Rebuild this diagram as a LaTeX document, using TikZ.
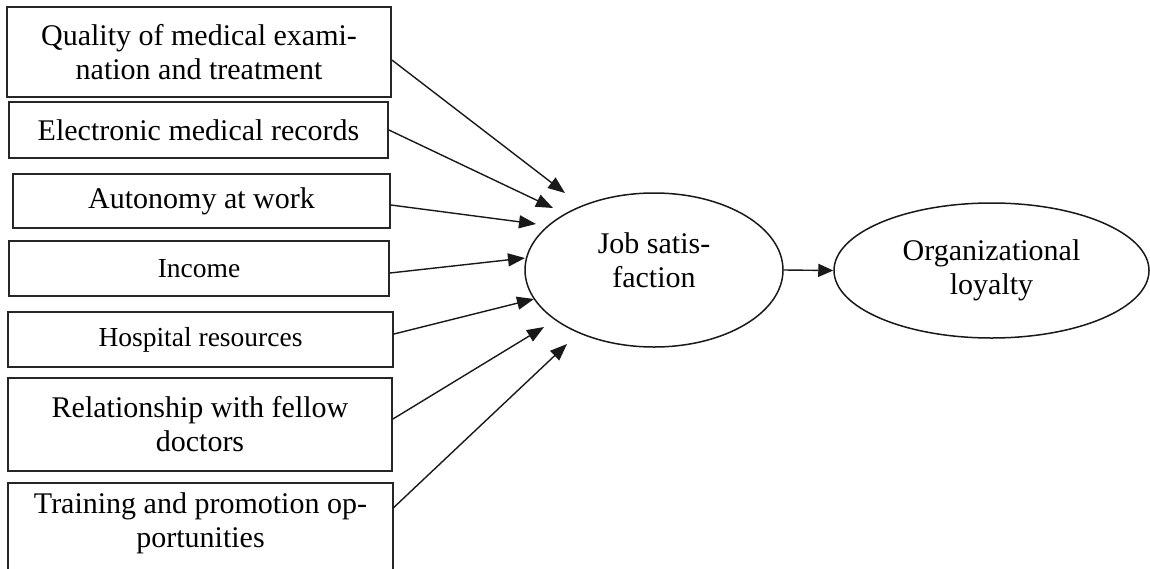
\documentclass[tikz,border=0pt]{standalone}
\usepackage{fontspec}
\setmainfont{Liberation Serif}
\usetikzlibrary{arrows.meta,shapes.geometric}
\tikzset{
  factor/.style={draw=black!85, line width=1.8pt, rectangle, inner sep=0pt, align=center,
    font=\fontsize{30}{34}\selectfont},
  smallfactor/.style={factor, font=\fontsize{27.5}{32}\selectfont},
  plaintext/.style={inner sep=0pt, align=center, font=\fontsize{30}{34}\selectfont},
  construct/.style={draw=black!90, line width=1.5pt, ellipse, inner sep=0pt, align=center,
    font=\fontsize{30}{34}\selectfont},
  link/.style={draw=black!90, line width=1.4pt, -{Triangle[length=17pt,width=13pt]}},
  frame/.style={draw=black!85, line width=1.8pt}
}
\begin{document}
\begin{tikzpicture}[x=1pt,y=-1pt]
\path[use as bounding box] (0,0) rectangle (1150,568);
\clip (0,0) rectangle (1150,568);
% factor boxes
\node[factor, minimum width=384pt, minimum height=90pt] (b1) at (199,52) {Quality of medical exami-\\nation and treatment};
\node[factor, minimum width=379pt, minimum height=56pt] (b2) at (198.5,130) {Electronic medical records};
\node[factor, minimum width=377pt, minimum height=54pt] (b3) at (201.5,201) {Autonomy at work};
\node[smallfactor, minimum width=380pt, minimum height=55pt] (b4) at (199,268.5) {Income};
\node[smallfactor, minimum width=385pt, minimum height=55pt] (b5) at (200.5,339.5) {Hospital resources};
\node[factor, minimum width=384pt, minimum height=93pt] (b6) at (200,424.5) {Relationship with fellow\\doctors};
\node[plaintext, minimum width=385pt] (b7) at (200.5,523) {Training and promotion op-\\portunities};
\draw[frame] (b7.west |- 0,585) |- (b7.west |- 0,483) -- (b7.east |- 0,483) -- (b7.east |- 0,585);
% constructs
\node[construct, minimum width=258pt, minimum height=154pt] (js) at (654,270) {};
\node[plaintext] (jst) at (654,260) {Job satis-\\faction};
\node[construct, minimum width=315pt, minimum height=135pt] (ol) at (991.5,270.5) {Organizational\\loyalty};
% arrow tips
\coordinate (t1) at (565,193);
\coordinate (t2) at (553,208);
\coordinate (t3) at (536,224);
\coordinate (t4) at (525,258);
\coordinate (t5) at (534,299);
\coordinate (t6) at (544,327);
\coordinate (t7) at (567,344);
% connectors
\draw[link] ([yshift=-8pt]b1.east) -- (t1);
\draw[link] (b2.east) -- (t2);
\draw[link] ([yshift=-4pt]b3.east) -- (t3);
\draw[link] ([yshift=-4.5pt]b4.east) -- (t4);
\draw[link] ([yshift=5.5pt]b5.east) -- (t5);
\draw[link] ([yshift=5.5pt]b6.east) -- (t6);
\draw[link] ([yshift=15pt]b7.east) -- (t7);
\draw[link, -{Triangle[length=15pt,width=13pt]}] (js.east) -- (ol.west);
\end{tikzpicture}
\end{document}
